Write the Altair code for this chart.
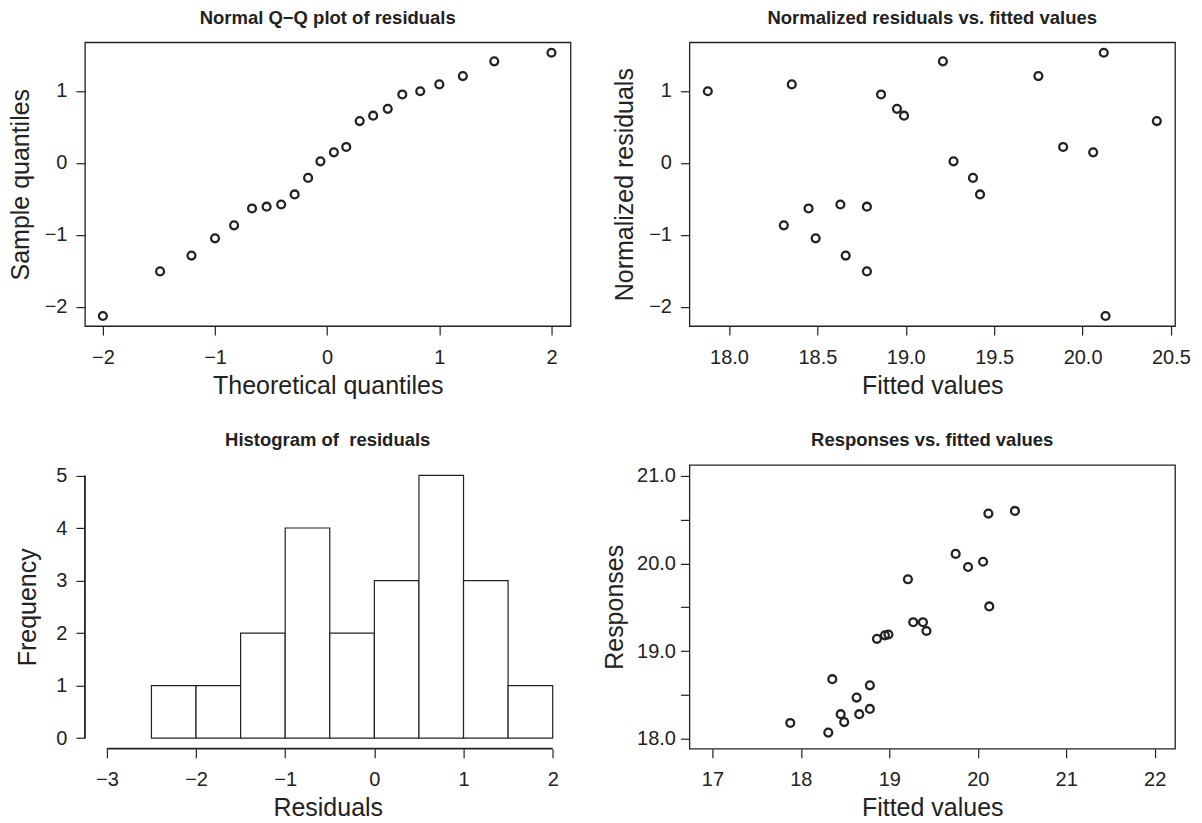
import altair as alt
import pandas as pd

# ---- data -------------------------------------------------------------
# Normal Q-Q plot: theoretical normal quantiles vs ordered residuals
qq_theoretical = [-2.00, -1.49, -1.21, -1.00, -0.83, -0.67, -0.54, -0.41, -0.29, -0.17, -0.06,
                  0.06, 0.17, 0.29, 0.41, 0.54, 0.67, 0.83, 1.00, 1.21, 1.49, 2.00]
qq_sample = [-2.13, -1.51, -1.29, -1.05, -0.87, -0.635, -0.61, -0.58, -0.44, -0.21, 0.02,
             0.145, 0.22, 0.58, 0.655, 0.75, 0.95, 0.995, 1.09, 1.205, 1.41, 1.53]

# Fitted values with their normalized residuals and observed responses
fitted = [17.88, 18.31, 18.355, 18.45, 18.49, 18.63, 18.66, 18.78, 18.78, 18.86, 18.95,
          18.99, 19.21, 19.27, 19.38, 19.42, 19.75, 19.89, 20.06, 20.12, 20.13, 20.42]
norm_resid = [0.995, -0.87, 1.09, -0.635, -1.05, -0.58, -1.29, -0.61, -1.51, 0.95, 0.75,
              0.655, 1.41, 0.02, -0.21, -0.44, 1.205, 0.22, 0.145, 1.53, -2.13, 0.58]
responses = [18.18, 18.07, 18.68, 18.28, 18.19, 18.47, 18.28, 18.61, 18.34, 19.14, 19.18,
             19.19, 19.82, 19.33, 19.33, 19.23, 20.11, 19.96, 20.02, 20.57, 19.51, 20.60]

# Histogram of residuals: bin edges and counts
bin_start = [-2.5, -2.0, -1.5, -1.0, -0.5, 0.0, 0.5, 1.0, 1.5]
bin_end = [-2.0, -1.5, -1.0, -0.5, 0.0, 0.5, 1.0, 1.5, 2.0]
bin_count = [1, 1, 2, 4, 2, 3, 5, 3, 1]

qq_df = pd.DataFrame({"theoretical": qq_theoretical, "sample": qq_sample})
fit_df = pd.DataFrame({"fitted": fitted, "resid": norm_resid, "response": responses})
hist_df = pd.DataFrame({"start": bin_start, "end": bin_end, "count": bin_count})

# ---- styling ----------------------------------------------------------
FONT = "Liberation Sans"
INK = "#222222"
W, H = 486, 284


def point_layer(data, x, y):
    return alt.Chart(data).mark_point(
        shape="circle", filled=False, size=62, strokeWidth=2.3, color=INK, opacity=1
    ).encode(x=x, y=y)


def x_axis(title, values, fmt=None, **kw):
    args = dict(title=title, values=values, labelPadding=12, titlePadding=6)
    if fmt:
        args["format"] = fmt
    args.update(kw)
    return alt.Axis(**args)


def y_axis(title, values, title_pad, label_pad, **kw):
    return alt.Axis(title=title, values=values, titlePadding=title_pad,
                    labelPadding=label_pad, **kw)


framed = alt.ViewBackground(stroke=INK, strokeWidth=1.3)
unframed = alt.ViewBackground(stroke="transparent", strokeWidth=0)

# Panel 1: normal Q-Q plot
qq = point_layer(
    qq_df,
    alt.X("theoretical:Q", scale=alt.Scale(domain=[-2.16, 2.17], nice=False, zero=False),
          axis=x_axis("Theoretical quantiles", [-2, -1, 0, 1, 2], "d")),
    alt.Y("sample:Q", scale=alt.Scale(domain=[-2.27, 1.675], nice=False, zero=False),
          axis=y_axis("Sample quantiles", [-2, -1, 0, 1], 11, 9, format="d")),
).properties(width=W, height=H, view=framed,
             title=alt.TitleParams("Normal Q\u2212Q plot of residuals"))

# Panel 2: normalized residuals vs fitted values
rvf = point_layer(
    fit_df,
    alt.X("fitted:Q", scale=alt.Scale(domain=[17.776, 20.523], nice=False, zero=False),
          axis=x_axis("Fitted values", [18.0, 18.5, 19.0, 19.5, 20.0, 20.5], ".1f")),
    alt.Y("resid:Q", scale=alt.Scale(domain=[-2.27, 1.675], nice=False, zero=False),
          axis=y_axis("Normalized residuals", [-2, -1, 0, 1], 11, 9, format="d")),
).properties(width=W, height=H, view=framed,
             title=alt.TitleParams("Normalized residuals vs. fitted values"))

# Panel 3: histogram of residuals
hx = alt.Scale(domain=[-3.246, 2.2], nice=False, zero=False)
hy = alt.Scale(domain=[-0.2, 5.2], nice=False, zero=False)
bars = alt.Chart(hist_df).mark_rect(fill="white", stroke=INK, strokeWidth=1.2).encode(
    x=alt.X("start:Q", scale=hx,
            axis=x_axis("Residuals", [-3, -2, -1, 0, 1, 2], "d")),
    x2="end:Q",
    y=alt.Y("count:Q", scale=hy,
            axis=y_axis("Frequency", [0, 1, 2, 3, 4, 5], 15, 9, format="d")),
    y2=alt.datum(0),
)
axis_lines = pd.DataFrame({"lo": [0], "hi": [5], "xlo": [-3], "xhi": [2]})
y_line = alt.Chart(axis_lines).mark_rule(color=INK, strokeWidth=1.8).encode(
    x=alt.value(0), y=alt.Y("lo:Q", scale=hy), y2="hi:Q")
x_line = alt.Chart(axis_lines).mark_rule(color=INK, strokeWidth=1.8).encode(
    y=alt.value(H), x=alt.X("xlo:Q", scale=hx), x2="xhi:Q")
hist = alt.layer(bars, y_line, x_line).properties(
    width=W, height=H, view=unframed,
    title=alt.TitleParams("Histogram of \u00a0residuals"))

# Panel 4: responses vs fitted values
half_blank = "datum.value % 1 == 0 ? format(datum.value, '.1f') : ''"
resp = point_layer(
    fit_df,
    alt.X("fitted:Q", scale=alt.Scale(domain=[16.74, 22.23], nice=False, zero=False),
          axis=x_axis("Fitted values", [17, 18, 19, 20, 21, 22], "d")),
    alt.Y("response:Q", scale=alt.Scale(domain=[17.886, 21.125], nice=False, zero=False),
          axis=y_axis("Responses", [18.0, 18.5, 19.0, 19.5, 20.0, 20.5, 21.0], 9, 5,
                      labelExpr=half_blank)),
).properties(width=W, height=H, view=framed,
             title=alt.TitleParams("Responses vs. fitted values"))

chart = alt.concat(
    qq, rvf, hist, resp, columns=2,
    spacing={"row": 139, "column": 119}, bounds="flush",
).properties(
    padding={"left": 7, "top": 7, "right": 10, "bottom": 5},
    background="white",
).configure_view(stroke=INK, strokeWidth=1.3).configure_axis(
    grid=False, domain=False,
    labelFont=FONT, labelFontSize=20, labelColor=INK,
    titleFont=FONT, titleFontSize=25, titleFontWeight="normal", titleColor=INK,
    tickColor=INK, tickSize=9, tickWidth=1.2,
).configure_axisLeft(labelAngle=0).configure_title(
    font=FONT, fontSize=18.5, fontWeight="bold", color=INK, offset=15,
    anchor="middle", frame="group",
)

chart.save("out.html", embed_options={"renderer": "svg", "actions": False})
